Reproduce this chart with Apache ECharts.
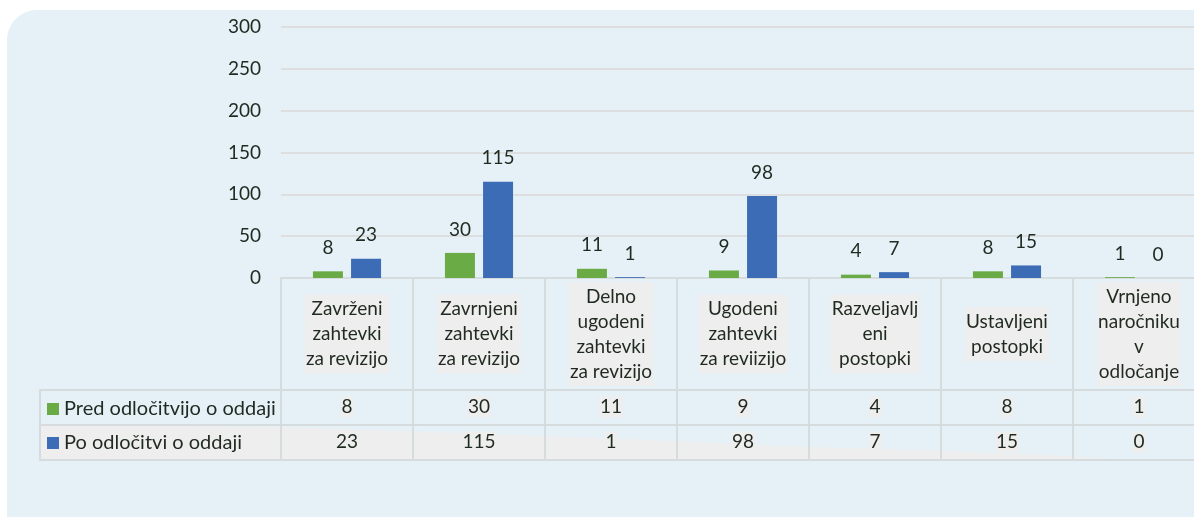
<!DOCTYPE html>
<html>
<head>
<meta charset="utf-8">
<script src="https://cdn.jsdelivr.net/npm/echarts@6/dist/echarts.min.js"></script>
<style>
  html, body { margin: 0; padding: 0; background: #ffffff; }
  #panel { position: absolute; left: 7px; top: 10px; width: 1210px; height: 530px;
           background: #e5f0f7; border-radius: 30px 15px 0 25px; }
  #main { position: absolute; left: 0; top: 0; width: 1194px; height: 517px; }
</style>
</head>
<body>
<div id="panel"></div>
<div id="main"></div>
<script>
// kategorije (prelomi vrstic kot na sliki)
var categories = [
  'Zavrženi\nzahtevki\nza revizijo',
  'Zavrnjeni\nzahtevki\nza revizijo',
  'Delno\nugodeni\nzahtevki\nza revizijo',
  'Ugodeni\nzahtevki\nza reviizijo',
  'Razveljavlj\neni\npostopki',
  'Ustavljeni\npostopki',
  'Vrnjeno\nnaročniku\nv\nodločanje'
];
var seriesNames = ['Pred odločitvijo o oddaji', 'Po odločitvi o oddaji'];
var predValues = [8, 30, 11, 9, 4, 8, 1];
var poValues = [23, 115, 1, 98, 7, 15, 0];
var yMin = 0, yMax = 300, yStep = 50;

var txt = '#1f2a20';
var font = 'Lato';
var lineCol = '#d6dbde';

var myChart = echarts.init(document.getElementById('main'));

function rowAxis(values, offset) {
  return {
    type: 'category',
    position: 'bottom',
    offset: offset,
    data: values.map(String),
    axisLine: { show: false },
    axisTick: { show: false },
    axisLabel: {
      interval: 0,
      margin: 17,
      verticalAlign: 'middle',
      color: txt,
      fontFamily: font,
      fontSize: 19,
      backgroundColor: '#eeeeee',
      padding: [1, 1]
    }
  };
}

var option = {
  backgroundColor: 'transparent',
  animation: false,
  textStyle: { fontFamily: font },
  grid: {
    left: 281, right: -11, top: 27, bottom: 239,
    containLabel: false,
    outerBoundsMode: 'none'
  },
  legend: {
    orient: 'vertical',
    left: 42,
    top: 394,
    itemWidth: 12,
    itemHeight: 12,
    itemGap: 14,
    icon: 'rect',
    data: seriesNames,
    textStyle: { color: txt, fontFamily: font, fontSize: 20, lineHeight: 20 }
  },
  xAxis: [
    {
      type: 'category',
      data: categories,
      axisLine: { lineStyle: { color: lineCol, width: 2 } },
      axisTick: { show: true, length: 182, lineStyle: { color: lineCol, width: 2 } },
      axisLabel: {
        interval: 0,
        margin: 56,
        verticalAlign: 'middle',
        color: txt,
        fontFamily: font,
        fontSize: 19,
        lineHeight: 25,
        backgroundColor: '#eeeeee',
        padding: [2, 1]
      }
    },
    rowAxis(predValues, 112),
    rowAxis(poValues, 147)
  ],
  yAxis: {
    type: 'value',
    min: yMin,
    max: yMax,
    interval: yStep,
    axisLine: { show: false },
    axisTick: { show: false },
    axisLabel: { margin: 20, color: txt, fontFamily: font, fontSize: 19 },
    splitLine: { lineStyle: { color: '#d9d9d9', width: 1.5 } }
  },
  series: [
    {
      name: seriesNames[0],
      type: 'bar',
      data: predValues,
      barWidth: 30,
      barGap: '27%',
      itemStyle: { color: '#6aab46' },
      label: { show: true, position: 'top', distance: 14, color: txt, fontFamily: font, fontSize: 19 }
    },
    {
      name: seriesNames[1],
      type: 'bar',
      data: poValues,
      barWidth: 30,
      itemStyle: { color: '#3d6cb6' },
      label: { show: true, position: 'top', distance: 14, color: txt, fontFamily: font, fontSize: 19 }
    }
  ],
  graphic: [
    // siva lisa v drugi vrstici tabele
    {
      type: 'polygon', z: -1, silent: true,
      shape: { points: [[40, 425], [281, 427], [600, 438], [810, 447], [941, 451], [1073, 456], [1110, 459], [40, 459]] },
      style: { fill: '#eeeeee' }
    },
    { type: 'line', z: 1, shape: { x1: 40, y1: 390, x2: 1194, y2: 390 }, style: { stroke: lineCol, lineWidth: 2 } },
    { type: 'line', z: 1, shape: { x1: 40, y1: 425, x2: 1194, y2: 425 }, style: { stroke: lineCol, lineWidth: 2 } },
    { type: 'line', z: 1, shape: { x1: 40, y1: 460, x2: 1194, y2: 460 }, style: { stroke: lineCol, lineWidth: 2 } },
    { type: 'line', z: 1, shape: { x1: 40, y1: 389, x2: 40, y2: 461 }, style: { stroke: lineCol, lineWidth: 2 } }
  ]
};
myChart.setOption(option);
</script>
</body>
</html>
